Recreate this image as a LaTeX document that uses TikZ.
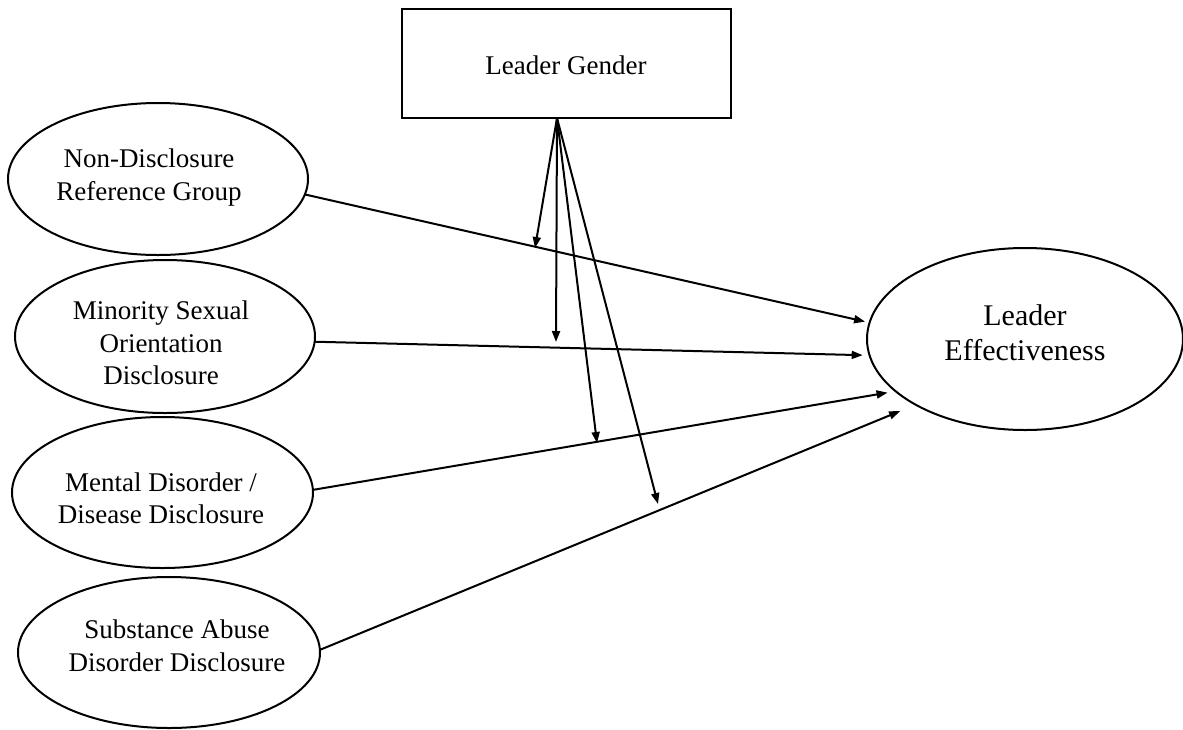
\documentclass[tikz,border=0pt]{standalone}
\usepackage{fontspec}
\setmainfont{Liberation Serif}
\usetikzlibrary{shapes.geometric,arrows.meta,calc}

\begin{document}
\begin{tikzpicture}[x=0.5pt,y=-0.5pt,
  every node/.style={inner sep=0pt,outer sep=0pt},
  oval/.style n args={2}{ellipse,draw,line width=1pt,minimum width=#1,minimum height=#2},
  txt/.style={align=center,font=\fontsize{13.5}{16.25}\selectfont},
  bigtxt/.style={align=center,font=\fontsize{15}{17.5}\selectfont},
  modbox/.style={rectangle,draw,line width=1.3pt,minimum width=164.5pt,minimum height=54.5pt},
  arr/.style={-{Triangle[length=5.5pt,width=4pt]},line width=1pt}
]
\useasboundingbox (0,0) rectangle (1183,729);

% moderator
\node[modbox] (lg) at (566.5,63.5) {};
\node[txt] (lgt) at (566,65) {Leader Gender};

% predictors
\node[oval={150pt}{76pt}] (e1) at (158,179) {};
\node[txt] (e1t) at (149,177.5) {Non-Disclosure\\Reference Group};

\node[oval={150pt}{76.5pt}] (e2) at (165,336.5) {};
\node[txt] (e2t) at (161,343) {Minority Sexual\\Orientation\\Disclosure};

\node[oval={150.5pt}{75.5pt}] (e3) at (162.5,492.5) {};
\node[txt] (e3t) at (161,498.5) {Mental Disorder /\\Disease Disclosure};

\node[oval={151pt}{75.5pt}] (e4) at (169,652.5) {};
\node[txt] (e4t) at (177,646) {Substance Abuse\\Disorder Disclosure};

% outcome
\node[oval={158pt}{91pt}] (le) at (1025,339) {};
\node[bigtxt] (let) at (1025,332.5) {Leader\\Effectiveness};

% direct paths
\draw[arr,shorten >=2.3pt] (e1.-6.3) -- (le.174.1);
\draw[arr,shorten >=3.45pt] (e2.-2.3) -- (le.186.3);
\draw[arr,shorten >=4.1pt] (e3.1) -- (le.202.2);
\draw[arr,shorten >=8.4pt] (e4.1.7) -- (le.211.8);

% moderation arrows onto the paths
\coordinate (src) at ($(lg.south)+(-9.5,0)$);
\coordinate (m1) at (535,248);
\coordinate (m2) at (556,342);
\coordinate (m3) at (597,443);
\coordinate (m4) at (658,504);
\draw[arr] (src) -- (m1);
\draw[arr] (src) -- (m2);
\draw[arr] (src) -- (m3);
\draw[arr] (src) -- (m4);
\end{tikzpicture}
\end{document}
